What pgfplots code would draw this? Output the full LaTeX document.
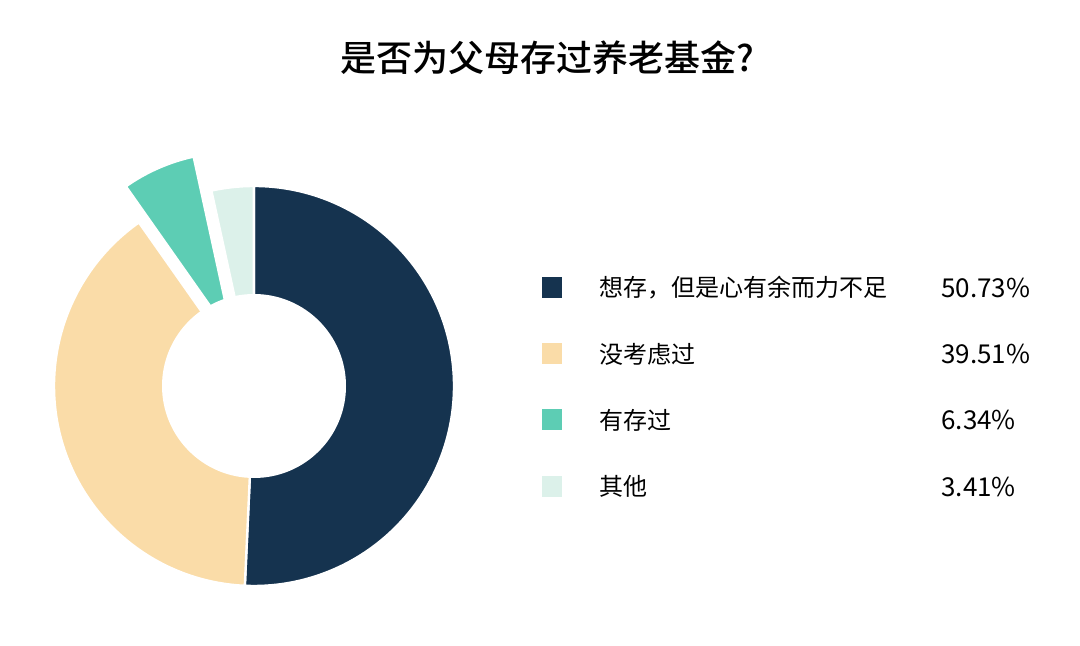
\documentclass[border=0pt]{standalone}
\usepackage{fontspec}
\setmainfont{Noto Sans CJK SC}[BoldFont={Noto Sans CJK SC Medium}]
\usepackage{pgfplots}
\usepackage{pgfplotstable}
\pgfplotsset{compat=1.18}

\definecolor{c0}{HTML}{15334F}
\definecolor{c1}{HTML}{FADCA8}
\definecolor{c2}{HTML}{5DCDB4}
\definecolor{c3}{HTML}{DCF1EA}

% share of answers, in percent
\pgfplotstableread[col sep=semicolon]{
label;pct
想存，但是心有余而力不足;50.73
没考虑过;39.51
有存过;6.34
其他;3.41
}\sharetable

\begin{document}
\begin{tikzpicture}
% start and end angle of each slice, clockwise from the top
\xdef\acc{90}
\foreach \i in {0,...,3}{
  \pgfplotstablegetelem{\i}{pct}\of\sharetable
  \pgfmathsetmacro{\aend}{\acc-3.6*\pgfplotsretval}
  \expandafter\xdef\csname sa\i\endcsname{\acc}
  \expandafter\xdef\csname ea\i\endcsname{\aend}
  \xdef\acc{\aend}
}
\begin{axis}[
    x=0.5pt, y=0.5pt,
    xmin=0, xmax=1080, ymin=0, ymax=646,
    hide axis, clip=false,
]
\path (axis cs:0,0) rectangle (axis cs:1080,646);

% title
\node[font=\fontsize{18pt}{22pt}\selectfont\bfseries] at (axis cs:547,588) {是否为父母存过养老基金?};

% slices (center 254,260; outer radius 200)
\pgfplotsinvokeforeach{0,1,3}{
  \fill[c#1, draw=white, line width=1.2pt]
    (axis cs:254,260) -- (axis cs:{254+200*cos(\csname sa#1\endcsname)},{260+200*sin(\csname sa#1\endcsname)})
    arc[start angle=\csname sa#1\endcsname, end angle=\csname ea#1\endcsname, radius=200] -- cycle;
}
% pulled out slice
\pgfmathsetmacro{\mid}{(\csname sa2\endcsname+\csname ea2\endcsname)/2}
\pgfmathsetmacro{\ox}{254+51*cos(\mid)}
\pgfmathsetmacro{\oy}{260+51*sin(\mid)}
\fill[c2, draw=white, line width=1.2pt]
  (axis cs:\ox,\oy) -- (axis cs:{\ox+187*cos(\csname sa2\endcsname)},{\oy+187*sin(\csname sa2\endcsname)})
  arc[start angle=\csname sa2\endcsname, end angle=\csname ea2\endcsname, radius=187] -- cycle;
% hole
\fill[white] (axis cs:254,260) circle[radius=92];

% legend
\pgfplotsinvokeforeach{0,...,3}{
  \fill[c#1] (axis cs:542,{646-277-66.2*#1}) rectangle (axis cs:562,{646-298-66.2*#1});
  \node[anchor=west, font=\fontsize{12pt}{14pt}\selectfont, inner sep=0pt]
    at (axis cs:599,{646-288-66.2*#1})
    {\pgfplotstablegetelem{#1}{label}\of\sharetable\pgfplotsretval};
  \node[anchor=west, font=\fontsize{13pt}{15pt}\selectfont, inner sep=0pt]
    at (axis cs:941,{646-288-66.2*#1})
    {\pgfplotstablegetelem{#1}{pct}\of\sharetable\pgfplotsretval\%};
}
\end{axis}
\end{tikzpicture}
\end{document}
